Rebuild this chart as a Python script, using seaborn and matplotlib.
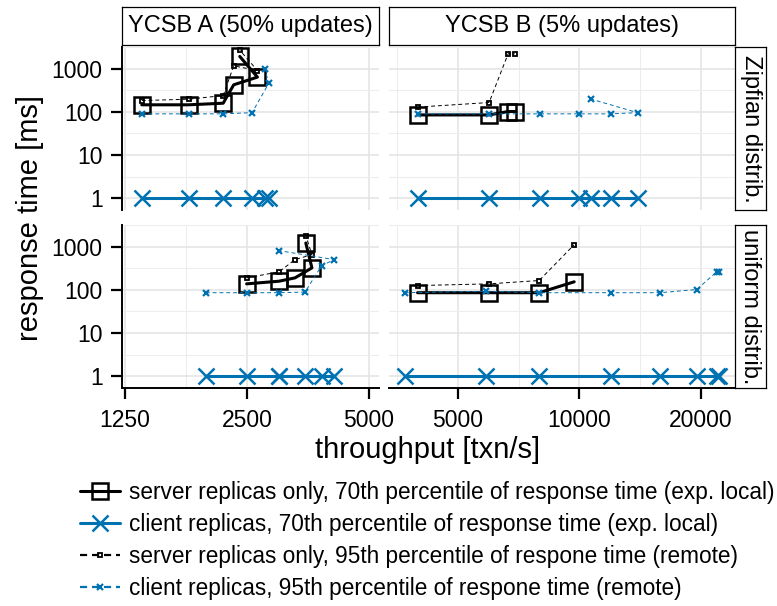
import pandas as pd
import matplotlib
matplotlib.use("Agg")
import matplotlib.pyplot as plt
import seaborn as sns
from matplotlib.lines import Line2D
from matplotlib.ticker import FixedLocator, NullFormatter

# ---- values ----
WORKLOADS = ["YCSB A (50% updates)", "YCSB B (5% updates)"]
DISTRIBS = ["Zipfian distrib.", "uniform distrib."]
SERIES = [
    "server replicas only, 70th percentile of response time (exp. local)",
    "client replicas, 70th percentile of response time (exp. local)",
    "server replicas only, 95th percentile of respone time (remote)",
    "client replicas, 95th percentile of respone time (remote)",
]

# YCSB A, Zipfian (points listed in load order)
A_ZIPF_SERVER_TPUT = [1375, 1794, 2183, 2318, 2652, 2399]
A_ZIPF_SERVER_P70 = [146, 146, 159, 425, 641, 1932]
A_ZIPF_SERVER_P95 = [183, 197, 239, 1170, 912, 2700]
A_ZIPF_CLIENT_TPUT = [1375, 1794, 2183, 2573, 2830, 2764]
A_ZIPF_CLIENT_P70 = [1, 1, 1, 1, 1, 1]
A_ZIPF_CLIENT_P95 = [90, 90, 90, 96, 465, 985]

# YCSB B, Zipfian
B_ZIPF_SERVER_TPUT = [3974, 5976, 6661, 6919]
B_ZIPF_SERVER_P70 = [85, 85, 102, 102]
B_ZIPF_SERVER_P95 = [129, 165, 2230, 2230]
B_ZIPF_CLIENT_TPUT = [3974, 5976, 7980, 9970, 11965, 13930, 10657]
B_ZIPF_CLIENT_P70 = [1, 1, 1, 1, 1, 1, 1]
B_ZIPF_CLIENT_P95 = [90, 90, 90, 90, 90, 96, 200]

# YCSB A, uniform
A_UNIF_SERVER_TPUT = [2494, 2998, 3283, 3614, 3491]
A_UNIF_SERVER_P70 = [138, 159, 190, 324, 1224]
A_UNIF_SERVER_P95 = [190, 262, 504, 657, 1805]
A_UNIF_CLIENT_TPUT = [1979, 2494, 2998, 3475, 3819, 4102, 2998]
A_UNIF_CLIENT_P70 = [1, 1, 1, 1, 1, 1, 1]
A_UNIF_CLIENT_P95 = [86, 86, 86, 89, 366, 504, 813]

# YCSB B, uniform
B_UNIF_SERVER_TPUT = [3974, 5976, 7951, 9706]
B_UNIF_SERVER_P70 = [86, 86, 86, 154]
B_UNIF_SERVER_P95 = [126, 138, 165, 1117]
B_UNIF_CLIENT_TPUT = [3695, 5866, 7951, 11965, 15825, 19520, 21875, 22190]
B_UNIF_CLIENT_P70 = [1, 1, 1, 1, 1, 1, 1, 1]
B_UNIF_CLIENT_P95 = [86, 93, 86, 86, 86, 102, 262, 262]

X_TICKS = {WORKLOADS[0]: [1250, 2500, 5000], WORKLOADS[1]: [5000, 10000, 20000]}
Y_TICKS = [1, 10, 100, 1000]

BLUE = "#0072B2"
W, H = 777, 606


def frame(workload, distrib, series, tput, rt):
    return pd.DataFrame({"workload": workload, "distrib": distrib, "series": series,
                         "throughput": tput, "rt": rt})


def load_data():
    parts = []
    panels = [
        (WORKLOADS[0], DISTRIBS[0], A_ZIPF_SERVER_TPUT, A_ZIPF_SERVER_P70, A_ZIPF_SERVER_P95,
         A_ZIPF_CLIENT_TPUT, A_ZIPF_CLIENT_P70, A_ZIPF_CLIENT_P95),
        (WORKLOADS[1], DISTRIBS[0], B_ZIPF_SERVER_TPUT, B_ZIPF_SERVER_P70, B_ZIPF_SERVER_P95,
         B_ZIPF_CLIENT_TPUT, B_ZIPF_CLIENT_P70, B_ZIPF_CLIENT_P95),
        (WORKLOADS[0], DISTRIBS[1], A_UNIF_SERVER_TPUT, A_UNIF_SERVER_P70, A_UNIF_SERVER_P95,
         A_UNIF_CLIENT_TPUT, A_UNIF_CLIENT_P70, A_UNIF_CLIENT_P95),
        (WORKLOADS[1], DISTRIBS[1], B_UNIF_SERVER_TPUT, B_UNIF_SERVER_P70, B_UNIF_SERVER_P95,
         B_UNIF_CLIENT_TPUT, B_UNIF_CLIENT_P70, B_UNIF_CLIENT_P95),
    ]
    for wl, dist, s_t, s70, s95, c_t, c70, c95 in panels:
        parts.append(frame(wl, dist, SERIES[0], s_t, s70))
        parts.append(frame(wl, dist, SERIES[1], c_t, c70))
        parts.append(frame(wl, dist, SERIES[2], s_t, s95))
        parts.append(frame(wl, dist, SERIES[3], c_t, c95))
    return pd.concat(parts, ignore_index=True)


STYLES = {
    SERIES[0]: dict(color="black", marker="s", markersize=11, markerfacecolor="none",
                    markeredgecolor="black", markeredgewidth=1.8, linewidth=2.2),
    SERIES[1]: dict(color=BLUE, marker="x", markersize=12, markeredgecolor=BLUE,
                    markeredgewidth=1.8, linewidth=2.2),
    SERIES[2]: dict(color="black", marker="s", markersize=3.5, markerfacecolor="none",
                    markeredgecolor="black", markeredgewidth=1.3, linewidth=0.7,
                    linestyle=(0, (4, 3))),
    SERIES[3]: dict(color=BLUE, marker="x", markersize=4.5, markeredgecolor=BLUE,
                    markeredgewidth=1.6, linewidth=0.7, linestyle=(0, (4, 3))),
}

# panel boxes in pixels (left, right) / (top, bottom)
COL_X = {WORKLOADS[0]: (122, 379), WORKLOADS[1]: (389, 735)}
ROW_Y = {DISTRIBS[0]: (47, 210), DISTRIBS[1]: (225, 388)}
XLIM = {WORKLOADS[0]: (1229, 5290), WORKLOADS[1]: (3377, 24280)}
YLIM = (0.53, 3200)


def box(x0, x1, y0, y1):
    return [x0 / W, 1 - y1 / H, (x1 - x0) / W, (y1 - y0) / H]


def geo_mid(ticks, lo, hi):
    mids = [ticks[0] / 2 ** 0.5] + [t * 2 ** 0.5 for t in ticks]
    return [m for m in mids if lo <= m <= hi]


def strip(fig, rect, text, rotation=0):
    sax = fig.add_axes(rect)
    sax.set_xticks([])
    sax.set_yticks([])
    sax.set_facecolor("white")
    for sp in sax.spines.values():
        sp.set_linewidth(0.9)
        sp.set_color("black")
    sax.text(0.5, 0.5, text, ha="center", va="center", rotation=rotation,
             fontsize=17, color="black", transform=sax.transAxes)


def legend_key(style):
    kw = dict(style)
    if kw.get("linestyle") is not None:
        # legend keys of the dashed series are drawn a bit heavier
        kw["linewidth"] = 1.6
        kw["linestyle"] = (0, (3.2, 2.2))
    return Line2D([], [], **kw)


def create_plot():
    df = load_data()
    sns.set_theme(style="white")
    plt.rcParams["font.family"] = ["Liberation Sans", "DejaVu Sans"]
    plt.rcParams.update({"text.color": "black", "xtick.color": "black",
                         "ytick.color": "black", "xtick.labelcolor": "black",
                         "ytick.labelcolor": "black"})

    fig = plt.figure(figsize=(W / 100, H / 100), dpi=100)

    for wl in WORKLOADS:
        for dist in DISTRIBS:
            x0, x1 = COL_X[wl]
            y0, y1 = ROW_Y[dist]
            ax = fig.add_axes(box(x0, x1, y0, y1))
            ax.set_xscale("log", base=2)
            ax.set_yscale("log")
            sub = df[(df.workload == wl) & (df.distrib == dist)]
            for s in SERIES:
                sns.lineplot(data=sub[sub.series == s], x="throughput", y="rt",
                             sort=False, estimator=None, legend=False, ax=ax,
                             **STYLES[s])

            ax.set_xlim(*XLIM[wl])
            ax.set_ylim(*YLIM)
            ax.xaxis.set_major_locator(FixedLocator(X_TICKS[wl]))
            ax.xaxis.set_minor_locator(FixedLocator(geo_mid(X_TICKS[wl], *XLIM[wl])))
            ax.yaxis.set_major_locator(FixedLocator(Y_TICKS))
            ax.yaxis.set_minor_locator(FixedLocator([t * 10 ** 0.5 for t in Y_TICKS]))
            ax.xaxis.set_minor_formatter(NullFormatter())
            ax.yaxis.set_minor_formatter(NullFormatter())
            ax.grid(which="major", color="#E3E3E3", linewidth=1.1)
            ax.grid(which="minor", color="#EDEDED", linewidth=0.8)
            ax.set_axisbelow(True)
            ax.set_xlabel("")
            ax.set_ylabel("")
            ax.tick_params(which="minor", length=0)

            left = wl == WORKLOADS[0]
            bottom = dist == DISTRIBS[1]
            for name, sp in ax.spines.items():
                sp.set_visible((name == "left" and left) or (name == "bottom" and bottom))
                sp.set_color("black")
                sp.set_linewidth(1.4)
            if left:
                ax.set_yticklabels([f"{t:d}" for t in Y_TICKS])
                ax.tick_params(axis="y", which="major", length=8, width=1.6,
                               color="black", labelsize=16.5, pad=6, left=True)
            else:
                ax.tick_params(axis="y", which="major", length=0, labelleft=False)
            if bottom:
                ax.set_xticklabels([f"{t:d}" for t in X_TICKS[wl]])
                ax.tick_params(axis="x", which="major", length=8, width=1.6,
                               color="black", labelsize=16.5, pad=7, bottom=True)
            else:
                ax.tick_params(axis="x", which="major", length=0, labelbottom=False)

    # facet strips
    for wl in WORKLOADS:
        x0, x1 = COL_X[wl]
        strip(fig, box(x0, x1, 7, 45), wl)
    for dist in DISTRIBS:
        y0, y1 = ROW_Y[dist]
        strip(fig, box(735, 766, y0, y1), dist, rotation=-90)

    fig.text(30 / W, 1 - 218 / H, "response time [ms]", rotation=90,
             ha="center", va="center", fontsize=21)
    fig.text(428 / W, 1 - 450 / H, "throughput [txn/s]",
             ha="center", va="center", fontsize=21)

    fig.legend([legend_key(STYLES[s]) for s in SERIES], SERIES, loc="upper left",
               bbox_to_anchor=(80 / W, 1 - 481 / H), frameon=False, fontsize=16.3,
               handlelength=1.75, handletextpad=0.4, labelspacing=0.4,
               borderpad=0, borderaxespad=0)

    fig.savefig("out.png", dpi=100)
    plt.close(fig)


if __name__ == "__main__":
    create_plot()
